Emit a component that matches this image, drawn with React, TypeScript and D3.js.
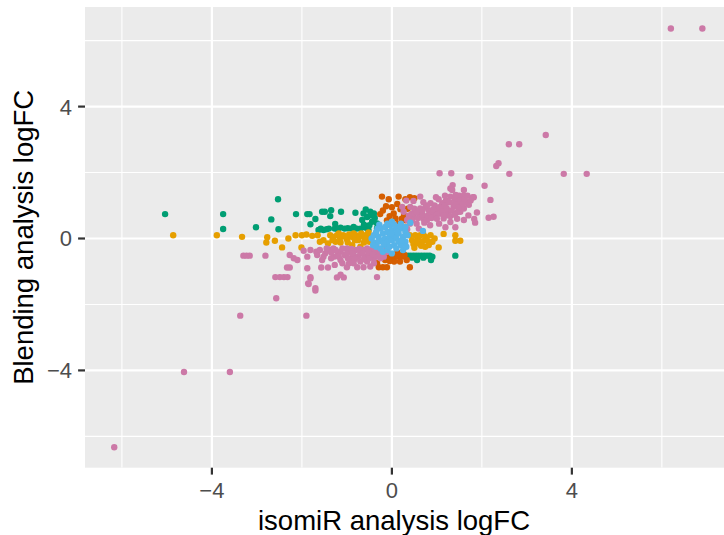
import React from "react";
import * as d3 from "d3";

// logFC pairs (isomiR analysis, blending analysis) per miRNA class
const discordant: [number, number][] = [
  [-5.04, 0.74], [-3.75, 0.74], [-3.75, 0.29], [-3.02, 0.34], [-2.68, 0.58], [-2.53, 1.19],
  [-2.52, 0.28], [-2.13, 0.74], [-1.88, 0.74], [-1.83, 0.74], [-1.81, 0.43], [-1.7, 0.59],
  [-1.55, 0.81], [-1.49, 0.81], [-1.35, 0.86], [-1.37, 0.68], [-1.13, 0.81], [-0.81, 0.78],
  [-1.26, 0.44], [-1.14, 0.33], [-0.98, 0.31], [-1.63, 0.26], [-1.52, 0.26], [-1.45, 0.28],
  [-1.27, 0.3], [-0.9, 0.3], [-0.85, 0.35], [-0.66, 0.56], [-0.63, 0.76], [-0.59, 0.33],
  [-0.48, 0.81], [-0.4, 0.76], [-0.52, 0.26], [-0.33, 0.31], [-0.44, 0.51], [-0.33, 0.46],
  [-0.7, 0.3], [-0.55, 0.65], [-1.58, 0.3], [-1.4, 0.3], [-1.2, 0.28], [-1.05, 0.3],
  [-0.78, 0.3], [-0.62, 0.42], [-0.5, 0.4], [-0.38, 0.62], [-0.58, 0.88], [-0.45, 0.7],
  [0.3, -0.52], [0.36, -0.52], [0.42, -0.52], [0.48, -0.52], [0.54, -0.52], [0.6, -0.52],
  [0.66, -0.52], [0.72, -0.52], [0.78, -0.52], [0.84, -0.52], [0.56, -0.65], [0.87, -0.65],
  [1.41, -0.52], [0.25, -0.48], [0.9, -0.55], [0.45, -0.58], [0.7, -0.58],
];

const isomirOnly: [number, number][] = [
  [-4.86, 0.1], [-3.89, 0.1], [-3.33, 0.05], [-2.77, 0.04], [-2.79, -0.12], [-2.6, -0.07],
  [-2.44, -0.27], [-2.14, 0.1], [-2.0, 0.1], [-2.01, -0.27], [-1.77, 0.08], [-1.52, -0.05],
  [-1.42, -0.15], [-1.37, 0.1], [-1.3, 0.05], [-1.22, 0.1], [-1.15, 0.02], [-1.08, 0.1],
  [-1.0, -0.02], [-0.95, 0.12], [-0.9, 0.05], [-0.88, -0.2], [-0.8, 0.1], [-0.75, -0.05],
  [-0.7, -0.25], [-0.65, 0.1], [-0.6, 0.0], [-0.55, 0.12], [-0.5, -0.1], [-1.14, -0.12],
  [-1.25, -0.1], [-0.45, 0.05], [-1.9, 0.12], [-1.65, 0.1], [-1.6, -0.1], [-1.32, -0.05],
  [-1.18, 0.15], [-1.03, 0.05], [-0.98, -0.12], [-0.85, 0.15], [-0.82, -0.05], [-0.72, 0.05],
  [-0.68, 0.15], [-0.62, -0.12], [-0.57, 0.05], [-0.52, 0.18], [-0.48, -0.02], [-2.3, 0.0],
  [0.4, 0.1], [0.45, -0.05], [0.48, -0.17], [0.52, 0.1], [0.58, 0.02], [0.63, 0.1],
  [0.68, -0.08], [0.74, -0.25], [0.75, 0.05], [0.82, -0.13], [0.82, -0.2], [0.86, 0.1],
  [0.95, 0.0], [1.04, -0.27], [1.15, 0.14], [1.41, 0.1], [1.41, -0.07], [1.52, -0.07],
  [0.6, -0.15], [0.9, -0.1], [0.5, -0.28], [0.55, -0.1], [0.7, 0.12], [0.78, -0.05],
  [0.65, -0.22],
];

const blendingOnly: [number, number][] = [
  [-0.22, 1.27], [-0.07, 1.19], [0.15, 1.27], [0.3, 1.19], [0.4, 1.25], [0.5, 1.22],
  [-0.13, 0.98], [0.19, 0.89], [0.04, 0.76], [-0.26, 0.74], [0.08, 0.61], [-0.11, 0.55],
  [0.27, 0.71], [-0.03, 0.5], [0.15, 0.45], [-0.2, 0.85], [0.0, 0.95], [0.35, 0.9], [0.12, 1.05],
  [0.22, 0.6], [-0.05, 0.68], [0.3, 0.55],
  [-0.29, -0.87], [-0.2, -0.87], [-0.11, -0.87], [-0.07, -0.55], [0.0, -0.55], [0.07, -0.55],
  [0.12, -0.55], [0.18, -0.7], [0.4, -0.87], [0.33, -0.65], [-0.33, -0.75], [0.12, -0.42],
  [-0.25, -0.5], [0.22, -0.55], [-0.15, -0.65], [0.05, -0.7], [0.28, -0.5], [-0.05, -0.68],
  [0.15, -0.5],
];

const concordant: [number, number][] = [
  [6.2, 6.37], [6.9, 6.37], [-6.17, -6.33], [-4.62, -4.05], [-3.6, -4.05], [-3.37, -2.34],
  [-1.9, -2.34], [3.42, 3.14], [2.6, 2.86], [2.83, 2.86], [2.32, 2.2], [2.37, 2.28],
  [2.61, 1.96], [3.82, 1.96], [4.33, 1.96], [2.06, 1.6], [1.8, 1.25], [2.19, 1.17],
  [1.89, 0.79], [1.83, 0.59], [1.85, 0.48], [2.15, 0.63], [2.26, 0.66], [1.74, 1.87],
  [1.06, 1.98], [1.32, 1.98], [1.71, 1.87], [1.35, 1.62], [1.6, 1.47], [1.34, 1.47],
  [1.3, 1.52], [1.82, 1.25], [1.56, 1.17], [1.37, 0.96], [1.52, 0.81], [1.23, 0.81],
  [1.0, 0.86], [0.82, 0.86], [0.63, 0.76], [0.48, 0.66], [0.34, 0.56], [0.45, 0.76],
  [0.78, 0.56], [0.93, 0.66], [1.15, 0.61], [1.19, 0.34], [1.41, 0.34], [1.6, 0.56],
  [0.86, 1.07], [1.12, 1.07], [1.3, 1.27], [1.45, 1.07], [0.26, 0.81], [0.41, 0.96],
  [1.08, 0.76], [1.71, 1.02], [1.6, 0.91], [0.63, 0.91], [0.19, 0.36], [0.34, 0.28],
  [0.32, 1.15], [0.48, 1.14], [0.63, 1.27], [1.04, 1.19], [0.23, 0.96],
  [0.55, 0.45], [0.7, 0.6], [0.75, 0.95], [0.9, 0.75], [0.95, 1.0], [1.1, 0.95],
  [1.2, 1.15], [1.25, 0.7], [1.4, 1.2], [1.5, 1.3], [1.65, 1.1], [1.7, 0.7],
  [1.45, 0.6], [1.3, 0.5], [1.05, 0.45], [0.85, 0.4], [0.6, 0.3], [0.5, 0.9],
  [0.7, 1.1], [1.55, 0.95], [1.6, 1.3], [0.98, 1.25], [1.18, 1.3], [0.4, 0.45], [1.45, 0.8],
  [0.45, 0.55], [0.58, 0.62], [0.68, 0.72], [0.72, 0.48], [0.8, 0.7], [0.88, 0.62],
  [0.92, 0.88], [1.0, 0.72], [1.05, 0.95], [1.12, 0.82], [1.18, 1.0], [1.22, 0.92],
  [1.28, 1.1], [1.33, 0.85], [1.38, 1.05], [1.42, 1.32], [1.48, 0.95], [1.52, 1.15],
  [1.58, 1.05], [1.62, 1.2], [1.68, 1.3], [1.75, 1.15], [1.3, 0.68], [1.4, 0.72],
  [0.38, 0.7], [0.55, 0.8], [0.68, 0.85], [0.78, 1.0], [1.0, 0.6], [1.15, 0.7],
  [-3.3, -0.52], [-3.23, -0.52], [-3.16, -0.52], [-2.81, -0.52], [-2.27, -0.88], [-2.33, -0.88],
  [-2.1, -0.65], [-1.88, -0.9], [-2.59, -1.17], [-2.49, -1.17], [-2.4, -1.17], [-2.32, -1.17],
  [-1.81, -1.17], [-1.85, -1.38], [-1.7, -1.51], [-1.7, -1.58], [-2.57, -1.81],
  [-1.96, -0.37], [-1.88, -0.55], [-1.81, -0.35], [-1.68, -0.4], [-1.66, -0.5], [-1.48, -0.45],
  [-1.4, -0.33], [-1.29, -0.55], [-1.14, -0.4], [-1.0, -0.3], [-0.85, -0.5], [-0.63, -0.35],
  [-0.48, -0.5], [-1.14, -0.65], [-1.27, -0.8], [-0.77, -0.87], [-0.63, -0.87], [-0.48, -0.85],
  [-0.33, -1.17], [-1.0, -0.87], [-1.57, -0.88], [-1.42, -0.88], [-1.22, -1.18], [-1.07, -1.18],
  [-1.14, -1.1], [-1.86, -1.36], [-1.81, -1.21], [-2.27, -0.5], [-2.18, -0.6],
  [-1.3, -0.3], [-1.2, -0.45], [-1.05, -0.5], [-0.95, -0.4], [-0.9, -0.6], [-0.8, -0.35],
  [-0.75, -0.55], [-0.7, -0.45], [-0.6, -0.55], [-0.55, -0.3], [-0.45, -0.35], [-0.4, -0.6],
  [-0.35, -0.45], [-0.3, -0.3], [-0.25, -0.6], [-0.95, -0.75], [-0.7, -0.7], [-1.35, -0.6],
  [-1.55, -0.65], [-0.55, -0.7], [-0.4, -0.75], [-0.2, -0.45], [-1.6, -0.35], [-0.1, -0.4],
  [-1.35, -0.42], [-1.25, -0.35], [-1.18, -0.55], [-1.1, -0.3], [-1.0, -0.45], [-0.98, -0.6],
  [-0.9, -0.32], [-0.88, -0.45], [-0.82, -0.62], [-0.72, -0.32], [-0.65, -0.45], [-0.62, -0.62],
  [-0.52, -0.42], [-0.5, -0.6], [-0.42, -0.48], [-0.38, -0.32], [-0.3, -0.55], [-0.25, -0.38],
  [-0.18, -0.55], [-0.12, -0.3], [-1.45, -0.3], [-1.52, -0.55], [-0.85, -0.75], [-1.1, -0.75],
];

const notSignificant: [number, number][] = [
  [-0.45, 0.0], [-0.4, 0.1], [-0.4, -0.12], [-0.35, 0.2], [-0.35, -0.25], [-0.3, 0.05],
  [-0.3, -0.1], [-0.25, 0.3], [-0.25, -0.3], [-0.2, 0.15], [-0.2, -0.05], [-0.2, -0.4],
  [-0.15, 0.35], [-0.15, 0.0], [-0.15, -0.2], [-0.1, 0.2], [-0.1, -0.1], [-0.1, -0.35],
  [-0.05, 0.4], [-0.05, 0.05], [-0.05, -0.25], [0.0, 0.25], [0.0, -0.05], [0.0, -0.45],
  [0.05, 0.1], [0.05, -0.2], [0.1, 0.35], [0.1, 0.0], [0.1, -0.3], [0.15, 0.15],
  [0.15, -0.1], [0.2, 0.3], [0.2, -0.2], [0.25, 0.05], [0.25, -0.35], [0.3, 0.2],
  [0.3, -0.1], [0.35, 0.1], [0.41, 0.48], [0.69, 0.23], [-0.1, 0.45], [0.05, 0.42],
  [-0.28, 0.42], [0.2, 0.45], [0.0, 0.51], [-0.42, -0.2], [-0.32, 0.3], [0.32, -0.25],
  [0.3, 0.35], [-0.18, -0.15], [0.12, 0.2], [0.22, -0.05], [-0.02, 0.15],
];

const groups = [
  { name: "discordant", color: "#009E73", points: discordant },
  { name: "isomiR only", color: "#E69F00", points: isomirOnly },
  { name: "blending only", color: "#D55E00", points: blendingOnly },
  { name: "concordant", color: "#CC79A7", points: concordant },
  { name: "not significant", color: "#56B4E9", points: notSignificant },
];

const majorTicks = [-4, 0, 4];
const minorTicks = [-6, -2, 2, 6];

const W = 724;
const H = 535;
const panel = { left: 85, top: 7, right: 731.6, bottom: 467.7 };
const FONT = "'Liberation Sans', Arial, Helvetica, sans-serif";

export default function App() {
  const x = d3.scaleLinear().domain([-6.82, 7.55]).range([panel.left, panel.right]);
  const y = d3.scaleLinear().domain([-6.95, 7.02]).range([panel.bottom, panel.top]);

  return (
    <svg
      width={W}
      height={H}
      style={{ position: "absolute", left: 0, top: 0, background: "#ffffff" }}
      fontFamily={FONT}
    >
      <defs>
        <clipPath id="panel-clip">
          <rect x={panel.left} y={panel.top} width={panel.right - panel.left} height={panel.bottom - panel.top} />
        </clipPath>
      </defs>
      <rect x={panel.left} y={panel.top} width={panel.right - panel.left} height={panel.bottom - panel.top} fill="#EBEBEB" />
      <g clipPath="url(#panel-clip)">
        {minorTicks.map((t) => (
          <line key={`vx${t}`} x1={x(t)} x2={x(t)} y1={panel.top} y2={panel.bottom} stroke="#fff" strokeWidth={1.1} />
        ))}
        {minorTicks.map((t) => (
          <line key={`hy${t}`} y1={y(t)} y2={y(t)} x1={panel.left} x2={panel.right} stroke="#fff" strokeWidth={1.1} />
        ))}
        {majorTicks.map((t) => (
          <line key={`VX${t}`} x1={x(t)} x2={x(t)} y1={panel.top} y2={panel.bottom} stroke="#fff" strokeWidth={2.2} />
        ))}
        {majorTicks.map((t) => (
          <line key={`HY${t}`} y1={y(t)} y2={y(t)} x1={panel.left} x2={panel.right} stroke="#fff" strokeWidth={2.2} />
        ))}
        {groups.map((g) => (
          <g key={g.name} fill={g.color}>
            {g.points.map(([px, py], i) => (
              <circle key={i} cx={x(px)} cy={y(py)} r={3.2} />
            ))}
          </g>
        ))}
      </g>
      {/* x axis */}
      {majorTicks.map((t) => (
        <g key={`xt${t}`}>
          <line x1={x(t)} x2={x(t)} y1={panel.bottom} y2={panel.bottom + 6.9} stroke="#333333" strokeWidth={2.2} />
          <text x={x(t)} y={498} textAnchor="middle" fontSize={22} fill="#4D4D4D">
            {t < 0 ? `\u2212${Math.abs(t)}` : `${t}`}
          </text>
        </g>
      ))}
      {/* y axis */}
      {majorTicks.map((t) => (
        <g key={`yt${t}`}>
          <line x1={panel.left - 6.9} x2={panel.left} y1={y(t)} y2={y(t)} stroke="#333333" strokeWidth={2.2} />
          <text x={72} y={y(t)} dy="0.36em" textAnchor="end" fontSize={22} fill="#4D4D4D">
            {t < 0 ? `\u2212${Math.abs(t)}` : `${t}`}
          </text>
        </g>
      ))}
      <text x={394} y={530} textAnchor="middle" fontSize={27.5} fill="#000">
        isomiR analysis logFC
      </text>
      <text
        transform={`translate(33.3, ${(panel.top + panel.bottom) / 2}) rotate(-90)`}
        textAnchor="middle"
        fontSize={27.5}
        fill="#000"
      >
        Blending analysis logFC
      </text>
    </svg>
  );
}
